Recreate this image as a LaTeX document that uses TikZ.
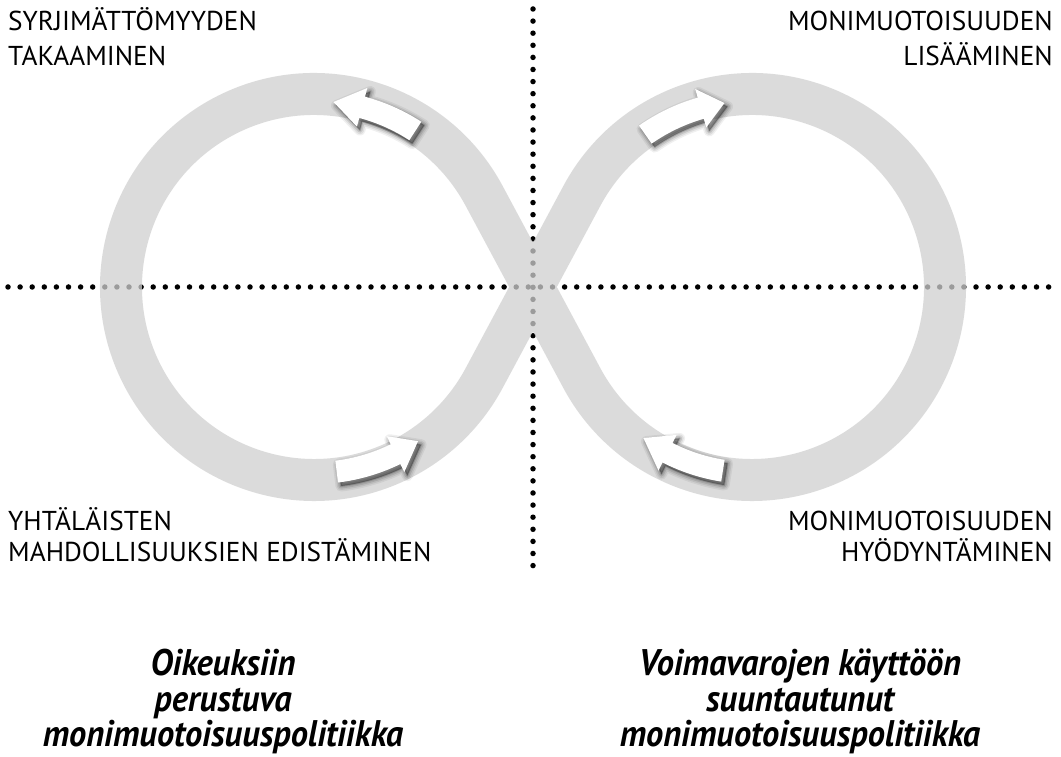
\documentclass[tikz,border=0pt]{standalone}
\usepackage{fontspec}
\setmainfont{PT Sans}
\newfontfamily\policyfont[FakeStretch=0.93]{PT Sans}
\definecolor{bandgray}{gray}{0.816}
\newcommand\cArrowPath[5]{([shift={(#1,#2)}]#3:197pt) arc[start angle=#3,end angle=#4,radius=197pt] -- ([shift={(#1,#2)}]#4:206pt) -- ([shift={(#1,#2)}]#5:186pt) -- ([shift={(#1,#2)}]#4:166pt) -- ([shift={(#1,#2)}]#4:175pt) arc[start angle=#4,end angle=#3,radius=175pt] -- cycle}
\newcommand\cArrow[5]{%
  \begin{scope}[shift={(3pt,-3.5pt)}]
    \foreach \w/\o in {11/0.06,8/0.08,5/0.11,2/0.15}{
      \filldraw[black, fill opacity=\o, draw opacity=\o, line width=\w pt, line join=round] \cArrowPath{#1}{#2}{#3}{#4}{#5};
    }
  \end{scope}
  \fill[white] \cArrowPath{#1}{#2}{#3}{#4}{#5};
}
\tikzset{
  dotline/.style={line width=5.5pt, line cap=round, dash pattern=on 0pt off 12.1pt, black},
  band/.style={line width=42pt, draw=bandgray, opacity=0.75},
  caplabel/.style={inner sep=0pt, font=\fontsize{27.3}{33}\selectfont},
  policy/.style={inner sep=0pt, anchor=base, font=\policyfont\fontsize{37}{44}\selectfont\bfseries\itshape},
}
\begin{document}
\begin{tikzpicture}[x=1pt,y=1pt]
\useasboundingbox (0,0) rectangle (1061,757);
\fill[white] (0,0) rectangle (1061,757);
% dotted axes
\coordinate (hl) at (8,470);
\coordinate (hr) at (1055,470);
\coordinate (vt) at (533,748);
\coordinate (vb) at (533,186);
\draw[dotline] (hl) -- (hr);
\draw[dotline] (vt) -- (vb);
% infinity band
\coordinate (cl) at (314,470);
\coordinate (cr) at (752,470);
\draw[band] ([shift={(cl)}]28.2:193pt) arc[start angle=28.2,end angle=331.8,radius=193pt]
  -- ([shift={(cr)}]151.8:193pt) arc[start angle=151.8,end angle=-151.8,radius=193pt] -- cycle;
% arrows
\cArrow{314}{470}{57}{75}{84}
\cArrow{752}{470}{125}{106}{98.5}
\cArrow{314}{470}{-83}{-64}{-56}
\cArrow{752}{470}{-99}{-117}{-125.7}
% labels
\node[caplabel, anchor=base west] (tl1) at (8,726) {SYRJIMÄTTÖMYYDEN};
\node[caplabel, anchor=base west] (tl2) at (8,691) {TAKAAMINEN};
\node[caplabel, anchor=base east] (tr1) at (1053,726) {MONIMUOTOISUUDEN};
\node[caplabel, anchor=base east] (tr2) at (1053,691) {LISÄÄMINEN};
\node[caplabel, anchor=base west] (bl1) at (8,226) {YHTÄLÄISTEN};
\node[caplabel, anchor=base west] (bl2) at (8,195) {MAHDOLLISUUKSIEN EDISTÄMINEN};
\node[caplabel, anchor=base east] (br1) at (1053,226) {MONIMUOTOISUUDEN};
\node[caplabel, anchor=base east] (br2) at (1053,195) {HYÖDYNTÄMINEN};
\node[policy] (pl1) at (223,81) {Oikeuksiin};
\node[policy] (pl2) at (223,45) {perustuva};
\node[policy] (pl3) at (223,10) {monimuotoisuuspolitiikka};
\node[policy] (pr1) at (800,81) {Voimavarojen käyttöön};
\node[policy] (pr2) at (800,45) {suuntautunut};
\node[policy] (pr3) at (800,10) {monimuotoisuuspolitiikka};
\end{tikzpicture}
\end{document}
